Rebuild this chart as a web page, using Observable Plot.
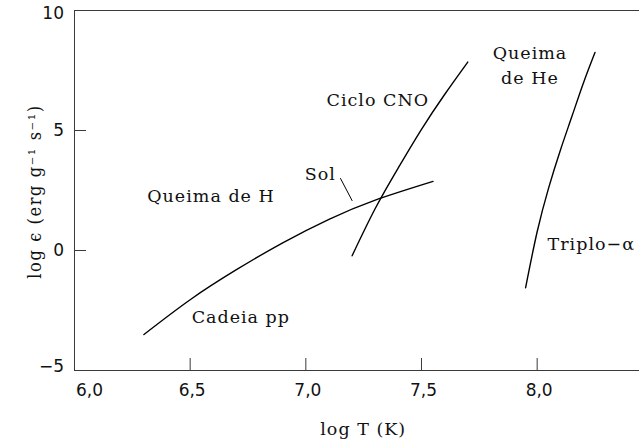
<!DOCTYPE html>
<html><head><meta charset="utf-8">
<script src="https://cdn.jsdelivr.net/npm/d3@7"></script>
<script src="https://cdn.jsdelivr.net/npm/@observablehq/plot@0.6"></script>
<style>body{margin:0;background:#fff}</style>
</head><body><div id="chart"></div>
<script>
// Cadeia pp (Queima de H)
const ppT = [6.30, 6.50, 6.70, 6.90, 7.10, 7.30, 7.55];
const ppE = [-3.50, -2.05, -0.80, 0.32, 1.30, 2.10, 2.88];
// Ciclo CNO
const cnoT = [7.20, 7.30, 7.40, 7.50, 7.60, 7.70];
const cnoE = [-0.22, 1.75, 3.45, 5.05, 6.50, 7.85];
// Triplo-alpha (Queima de He)
const taT = [7.95, 8.00, 8.05, 8.10, 8.15, 8.20, 8.25];
const taE = [-1.55, 0.78, 2.62, 4.17, 5.58, 6.98, 8.25];
// "Sol" pointer
const solT = [7.15, 7.20];
const solE = [3.00, 2.08];
// annotations
const labelText = ["Queima de H", "Cadeia pp", "Sol", "Ciclo CNO", "Triplo\u2212\u03b1"];
const labelT = [6.590, 6.719, 7.063, 7.311, 8.234];
const labelE = [2.25, -2.78, 3.19, 6.25, 0.25];
const heText = ["Queima\nde He"];
const heT = [7.969];
const heE = [7.80];
// axes
const xDomain = [6.0, 8.4424];
const yDomain = [-5, 10];
const xTicks = [6.0, 6.5, 7.0, 7.5, 8.0];
const xTickLabels = ["6,0", "6,5", "7,0", "7,5", "8,0"];
const yTicks = [-5, 0, 5, 10];
const yTickLabels = ["\u22125", "0", "5", "10"];
const xTitle = "log T (K)";
const yTitle = "log \u03f5 (erg g\u207b\u00b9 s\u207b\u00b9)";

const toRows = (T, E) => T.map((t, i) => ({T: t, E: E[i]}));
const serif = "'DejaVu Serif', serif";
const sans = "'DejaVu Sans', sans-serif";
const fmtX = d => xTickLabels[xTicks.indexOf(d)];
const fmtY = d => yTickLabels[yTicks.indexOf(d)];
const innerX = xTicks.filter(d => d > xDomain[0]);
const innerY = yTicks.filter(d => d > yDomain[0] && d < yDomain[1]);
const labels = labelText.map((t, i) => ({text: t, T: labelT[i], E: labelE[i]}));
const heLabels = heText.map((t, i) => ({text: t, T: heT[i], E: heE[i]}));
const axisCol = "#3a3a3a";

const chart = Plot.plot({
  width: 639, height: 443,
  marginLeft: 74, marginRight: 0, marginTop: 10, marginBottom: 73,
  x: {domain: xDomain, axis: null},
  y: {domain: yDomain, axis: null},
  style: {fontFamily: sans, fontSize: "17px", background: "white", color: "#111"},
  marks: [
    Plot.ruleY(yDomain, {stroke: axisCol, strokeWidth: 1}),
    Plot.ruleX([xDomain[0]], {stroke: axisCol, strokeWidth: 1}),
    Plot.axisX(innerX, {tickSize: 12, dy: -12, text: null, stroke: axisCol, label: null}),
    Plot.axisY(innerY, {tickSize: 12, dx: 12, text: null, stroke: axisCol, label: null}),
    Plot.axisX([xTicks[0]], {tickSize: 0, tickPadding: 13, dx: 15, tickFormat: fmtX, label: null, fontSize: 17, fill: "#111"}),
    Plot.axisX(innerX, {tickSize: 0, tickPadding: 13, dx: 2, tickFormat: fmtX, label: null, fontSize: 17, fill: "#111"}),
    Plot.axisY(innerY, {tickSize: 0, tickPadding: 10.5, tickFormat: fmtY, label: null, fontSize: 17, fill: "#111"}),
    Plot.axisY([yDomain[1]], {tickSize: 0, tickPadding: 10.5, dy: 3, tickFormat: fmtY, label: null, fontSize: 17, fill: "#111"}),
    Plot.axisY([yDomain[0]], {tickSize: 0, tickPadding: 10.5, dy: -4, tickFormat: fmtY, label: null, fontSize: 17, fill: "#111"}),
    Plot.line(toRows(ppT, ppE), {x: "T", y: "E", curve: "natural", stroke: "black", strokeWidth: 1.4}),
    Plot.line(toRows(cnoT, cnoE), {x: "T", y: "E", curve: "natural", stroke: "black", strokeWidth: 1.4}),
    Plot.line(toRows(taT, taE), {x: "T", y: "E", curve: "natural", stroke: "black", strokeWidth: 1.4}),
    Plot.line(toRows(solT, solE), {x: "T", y: "E", stroke: "black", strokeWidth: 1}),
    Plot.text(labels, {x: "T", y: "E", text: "text", fontFamily: serif, fontSize: 17.5, textAnchor: "middle", lineAnchor: "middle", fill: "#111"}),
    Plot.text(heLabels, {x: "T", y: "E", text: "text", fontFamily: serif, fontSize: 17.5, textAnchor: "middle", lineAnchor: "middle", lineHeight: 1.45, fill: "#111"}),
    Plot.text([xTitle], {x: () => 7.248, frameAnchor: "bottom", textAnchor: "middle", lineAnchor: "bottom", dy: 64, fontFamily: serif, fontSize: 17.5, fill: "#111"}),
    Plot.text([yTitle], {frameAnchor: "left", rotate: -90, textAnchor: "middle", lineAnchor: "bottom", dx: -34, dy: 1, fontFamily: "'DejaVu Serif Condensed', 'DejaVu Serif', serif", fontSize: 18, fill: "#111"})
  ]
});
d3.select(chart).selectAll("g[font-family*='Serif']").style("letter-spacing", "1px");
d3.select(chart).selectAll("g[font-family*='Condensed']").style("letter-spacing", "1.6px");
document.getElementById("chart").appendChild(chart);
</script>
</body></html>
